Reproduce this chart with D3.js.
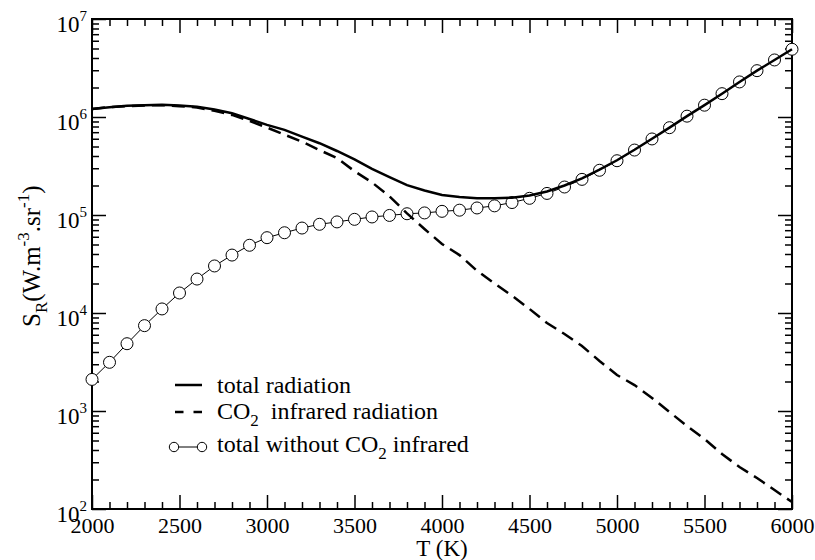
<!DOCTYPE html>
<html>
<head>
<meta charset="utf-8">
<script src="https://cdn.jsdelivr.net/npm/d3@7"></script>
<style>
body{margin:0;background:#fff;}
svg text{font-family:"Liberation Serif","Times New Roman",Times,"DejaVu Serif",serif;fill:#000;}
</style>
</head>
<body>
<div id="chart"></div>
<script>
// temperature grid (K)
var temps = [2000,2100,2200,2300,2400,2500,2600,2700,2800,2900,
             3000,3100,3200,3300,3400,3500,3600,3700,3800,3900,
             4000,4100,4200,4300,4400,4500,4600,4700,4800,4900,
             5000,5100,5200,5300,5400,5500,5600,5700,5800,5900,6000];

// total radiation
var totalRad = [1.21e6,1.26e6,1.30e6,1.32e6,1.33e6,1.31e6,1.27e6,1.19e6,1.09e6,9.55e5,
                8.3e5,7.4e5,6.3e5,5.4e5,4.5e5,3.7e5,2.95e5,2.44e5,2.02e5,1.78e5,
                1.60e5,1.53e5,1.48e5,1.48e5,1.50e5,1.58e5,1.74e5,2.0e5,2.36e5,2.9e5,
                3.62e5,4.63e5,6.0e5,7.8e5,1.02e6,1.32e6,1.73e6,2.28e6,2.97e6,3.82e6,4.91e6];

// CO2 infrared radiation
var co2Rad = [1.21e6,1.26e6,1.29e6,1.31e6,1.32e6,1.29e6,1.25e6,1.16e6,1.05e6,9.1e5,
              7.8e5,6.6e5,5.6e5,4.6e5,3.8e5,2.8e5,2.15e5,1.55e5,1.04e5,7.2e4,
              5.06e4,3.9e4,2.7e4,2.0e4,1.5e4,1.1e4,7.9e3,6.1e3,4.6e3,3.24e3,
              2.33e3,1.84e3,1.36e3,977,703,518,364,268,207,156,118];

// total without CO2 infrared
var noCo2Rad = [2100,3140,4860,7430,11000,16000,22200,30200,39000,49100,
                58700,65900,73600,80400,85000,90300,95500,99000,103000,105000,
                109000,112000,118000,124000,134000,148000,166000,193000,231000,286000,
                358000,460000,597000,778000,1020000,1320000,1730000,2280000,2970000,3820000,4910000];

var xTicks = [2000,2500,3000,3500,4000,4500,5000,5500,6000];
var yTicks = [1e2,1e3,1e4,1e5,1e6,1e7];

var width = 815, height = 560,
    margin = {top:19, right:23, bottom:51, left:92},
    serif = "'Liberation Serif','Times New Roman',Times,'DejaVu Serif',serif",
    fontSize = 22;

var svg = d3.select("#chart").append("svg")
  .attr("width", width).attr("height", height)
  .style("font-family", serif);

var x = d3.scaleLinear().domain([2000, 6000]).range([margin.left, width - margin.right]);
var y = d3.scaleLog().domain([1e2, 1e7]).range([height - margin.bottom, margin.top]);

var xMinor = d3.range(2000, 6001, 100).filter(function(d){ return d % 500 != 0; });
var yMinor = y.ticks().filter(function(d){ return yTicks.indexOf(d) < 0; });

function series(vals){
  return temps.map(function(t, i){ return {t: t, v: vals[i]}; });
}

function tickStyle(g){
  g.attr("font-family", null).attr("font-size", null);
  g.select(".domain").remove();
  g.selectAll("line").attr("stroke", "#000").attr("stroke-width", 1.5);
}

// minor ticks, all four sides, pointing inward
svg.append("g").attr("transform", "translate(0," + y.range()[0] + ")")
  .call(d3.axisBottom(x).tickValues(xMinor).tickSize(-7).tickFormat(""))
  .call(tickStyle);
svg.append("g").attr("transform", "translate(0," + y.range()[1] + ")")
  .call(d3.axisTop(x).tickValues(xMinor).tickSize(-7).tickFormat(""))
  .call(tickStyle);
svg.append("g").attr("transform", "translate(" + x.range()[0] + ",0)")
  .call(d3.axisLeft(y).tickValues(yMinor).tickSize(-7).tickFormat(""))
  .call(tickStyle);
svg.append("g").attr("transform", "translate(" + x.range()[1] + ",0)")
  .call(d3.axisRight(y).tickValues(yMinor).tickSize(-7).tickFormat(""))
  .call(tickStyle);

// major ticks
var xAxis = svg.append("g").attr("transform", "translate(0," + y.range()[0] + ")")
  .call(d3.axisBottom(x).tickValues(xTicks).tickSize(-14).tickPadding(8).tickFormat(d3.format("d")))
  .call(tickStyle);
xAxis.selectAll("text")
  .style("font-size", fontSize + "px").style("font-family", serif);

svg.append("g").attr("transform", "translate(0," + y.range()[1] + ")")
  .call(d3.axisTop(x).tickValues(xTicks).tickSize(-14).tickFormat(""))
  .call(tickStyle);
svg.append("g").attr("transform", "translate(" + x.range()[1] + ",0)")
  .call(d3.axisRight(y).tickValues(yTicks).tickSize(-14).tickFormat(""))
  .call(tickStyle);

var yAxis = svg.append("g").attr("transform", "translate(" + x.range()[0] + ",0)")
  .call(d3.axisLeft(y).tickValues(yTicks).tickSize(-14).tickPadding(5).tickFormat(""))
  .call(tickStyle);
yAxis.selectAll(".tick text").each(function(d){
  var t = d3.select(this)
    .attr("dy", null).attr("y", 12)
    .style("font-size", "23px").style("font-family", serif);
  t.append("tspan").text("10");
  t.append("tspan").attr("dy", -11).style("font-size", "15px")
    .text(Math.round(Math.log10(d)));
});

// frame
svg.append("rect")
  .attr("x", x.range()[0]).attr("y", y.range()[1])
  .attr("width", x.range()[1] - x.range()[0])
  .attr("height", y.range()[0] - y.range()[1])
  .attr("fill", "none").attr("stroke", "#000").attr("stroke-width", 2);

var line = d3.line()
  .x(function(d){ return x(d.t); })
  .y(function(d){ return y(d.v); });

// total without CO2 (thin line + open circles)
svg.append("path").datum(series(noCo2Rad))
  .attr("d", line).attr("fill", "none").attr("stroke", "#000").attr("stroke-width", 1);
svg.append("g").selectAll("circle")
  .data(series(noCo2Rad))
  .enter().append("circle")
  .attr("cx", function(d){ return x(d.t); })
  .attr("cy", function(d){ return y(d.v); })
  .attr("r", 6)
  .attr("fill", "#fff").attr("stroke", "#000").attr("stroke-width", 1);

// total radiation
svg.append("path").datum(series(totalRad))
  .attr("d", line).attr("fill", "none").attr("stroke", "#000").attr("stroke-width", 2.5);

// CO2 infrared
svg.append("path").datum(series(co2Rad))
  .attr("d", line).attr("fill", "none").attr("stroke", "#000").attr("stroke-width", 2.5)
  .attr("stroke-dasharray", "13,7");

// legend
var leg = svg.append("g").style("font-size", "24px");
leg.append("line").attr("x1", 175).attr("x2", 202).attr("y1", 385).attr("y2", 385)
  .attr("stroke", "#000").attr("stroke-width", 2.5);
leg.append("text").attr("x", 217).attr("y", 393).text("total radiation");

leg.append("line").attr("x1", 175).attr("x2", 202).attr("y1", 412).attr("y2", 412)
  .attr("stroke", "#000").attr("stroke-width", 2.5).attr("stroke-dasharray", "8.5,10");
var l2 = leg.append("text").attr("x", 217).attr("y", 419);
l2.append("tspan").text("CO");
l2.append("tspan").attr("dy", 7).style("font-size", "17px").text("2");
l2.append("tspan").attr("dy", -7).text("\u00a0 infrared radiation");

leg.append("line").attr("x1", 174).attr("x2", 202).attr("y1", 447).attr("y2", 447)
  .attr("stroke", "#000").attr("stroke-width", 1);
leg.selectAll("circle.leg").data([174, 202]).enter().append("circle")
  .attr("cx", function(d){ return d; }).attr("cy", 447).attr("r", 4.7)
  .attr("fill", "#fff").attr("stroke", "#000").attr("stroke-width", 1);
var l3 = leg.append("text").attr("x", 217).attr("y", 452);
l3.append("tspan").text("total without CO");
l3.append("tspan").attr("dy", 7).style("font-size", "17px").text("2");
l3.append("tspan").attr("dy", -7).text(" infrared");

// axis titles
svg.append("text")
  .attr("x", (x.range()[0] + x.range()[1]) / 2).attr("y", 556)
  .attr("text-anchor", "middle").style("font-size", "23px")
  .text("T (K)");

var yt = svg.append("text")
  .attr("transform", "translate(40,327) rotate(-90)")
  .style("font-size", "25px");
yt.append("tspan").text("S");
yt.append("tspan").attr("dy", 7).style("font-size", "17px").text("R");
yt.append("tspan").attr("dy", -7).text("(W.m");
yt.append("tspan").attr("dy", -11).style("font-size", "17px").text("-3");
yt.append("tspan").attr("dy", 11).text(".sr");
yt.append("tspan").attr("dy", -11).style("font-size", "17px").text("-1");
yt.append("tspan").attr("dy", 11).text(")");
</script>
</body>
</html>
